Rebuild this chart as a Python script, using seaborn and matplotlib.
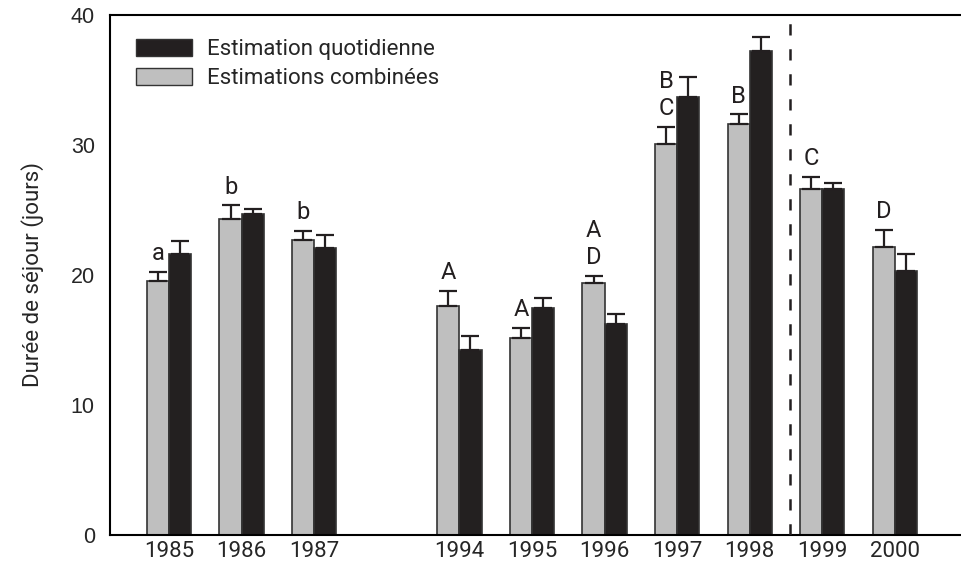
import numpy as np
import pandas as pd
import matplotlib
matplotlib.use("Agg")
import matplotlib.pyplot as plt
import seaborn as sns
from matplotlib.patches import Patch

# ---------------------------------------------------------
# data
# ---------------------------------------------------------
years = [1985, 1986, 1987, 1994, 1995, 1996, 1997, 1998, 1999, 2000]
combinees = [19.5, 24.3, 22.7, 17.6, 15.15, 19.4, 30.1, 31.6, 26.6, 22.15]
combinees_top = [20.25, 25.35, 23.4, 18.8, 15.9, 19.95, 31.4, 32.35, 27.55, 23.45]
quotidienne = [21.6, 24.7, 22.1, 14.2, 17.45, 16.2, 33.7, 37.2, 26.6, 20.3]
quotidienne_top = [22.6, 25.05, 23.1, 15.3, 18.2, 17.0, 35.25, 38.3, 27.1, 21.6]
letters = [["a"], ["b"], ["b"], ["A"], ["A"], ["D", "A"], ["C", "B"], ["B"], ["C"], ["D"]]

lab_comb = "Estimations combinées"
lab_quot = "Estimation quotidienne"

# one empty slot between 1987 and 1994
slots = [i + (1 if y > 1990 else 0) for i, y in enumerate(years)]

df = pd.DataFrame({
    "slot": slots * 2,
    "serie": [lab_comb] * len(years) + [lab_quot] * len(years),
    "val": combinees + quotidienne,
})

GREY = "#bfbfbf"
DARK = "#231f20"
NARROW = ["Roboto", "DejaVu Sans"]
FS = 16

sns.set_style("white")
plt.rcParams["font.family"] = NARROW

fig = plt.figure(figsize=(9.61, 5.75), dpi=100)
ax = fig.add_axes([0.1145, 0.0696, 0.8855, 0.9043])

sns.barplot(data=df, x="slot", y="val", hue="serie", hue_order=[lab_comb, lab_quot],
            palette=[GREY, DARK], native_scale=True, width=0.61, errorbar=None,
            edgecolor="#333333", linewidth=1.2, legend=False, ax=ax)

# upper-only error bars, placed on the bars seaborn drew
for cont, tops in zip(ax.containers, [combinees_top, quotidienne_top]):
    for bar, top in zip(cont, tops):
        xc = bar.get_x() + bar.get_width() / 2
        h = bar.get_height()
        ax.errorbar(xc, h, yerr=[[0], [top - h]], fmt="none", ecolor=DARK,
                    elinewidth=1.6, capsize=6.5, capthick=1.6, zorder=1)

# significance letters above the grey bars
for bar, top, labs in zip(ax.containers[0], combinees_top, letters):
    xc = bar.get_x() + bar.get_width() / 2
    for k, lab in enumerate(labs):
        ax.annotate(lab, (xc, top), xytext=(0, 5 + 19 * k), textcoords="offset points",
                    ha="center", va="bottom", fontsize=FS + 1, color=DARK)

# dashed separator between 1998 and 1999
ax.axvline(8.55, color=DARK, lw=1.8, dashes=(4.5, 5.5), zorder=3)

ax.set_ylim(0, 40)
ax.set_xlim(-0.813, 10.91)
ax.set_yticks([0, 10, 20, 30, 40])
ax.tick_params(axis="y", labelsize=15.5, labelfontfamily="Liberation Sans",
               length=8, width=1.5, color="black", direction="out", pad=3)

ax.set_xticks([0.66, 3.62, 6.59, 9.56])
ax.set_xticklabels([])
ax.set_xticks(slots, minor=True)
ax.set_xticklabels([str(y) for y in years], minor=True, fontsize=FS)
ax.tick_params(axis="x", which="minor", length=0, pad=4)
ax.tick_params(axis="x", which="major", length=7, width=1.5, color="black", direction="out")
ax.set_xlabel("")
ax.set_ylabel("Durée de séjour (jours)", fontsize=FS, labelpad=19)

for side in ["left", "bottom", "top"]:
    ax.spines[side].set_linewidth(1.5)
    ax.spines[side].set_color("black")
ax.spines["right"].set_visible(False)

handles = [Patch(facecolor=DARK, edgecolor="#333333", label=lab_quot),
           Patch(facecolor=GREY, edgecolor="#333333", label=lab_comb)]
ax.legend(handles=handles, loc="upper left", bbox_to_anchor=(0.0306, 0.954),
          frameon=False, fontsize=FS, handlelength=2.5, handleheight=0.8,
          handletextpad=0.7, labelspacing=0.35, borderpad=0, borderaxespad=0)

fig.savefig("out.png", dpi=100)
